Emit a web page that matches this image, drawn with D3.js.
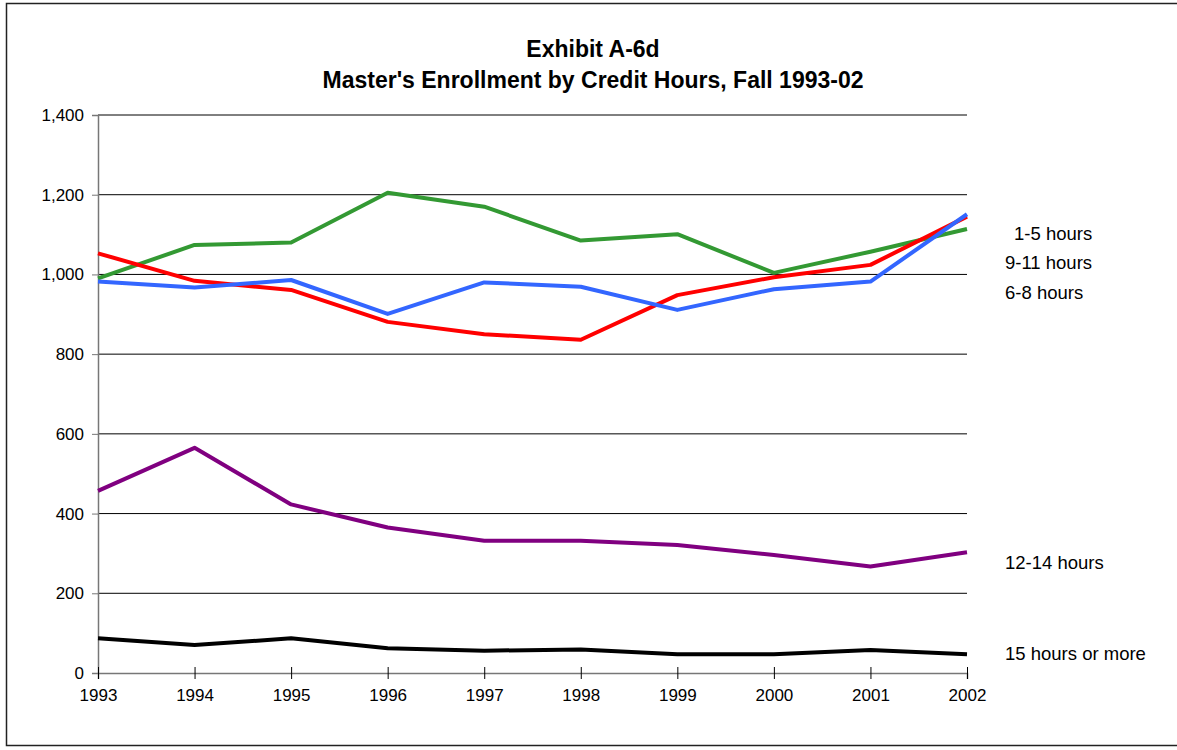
<!DOCTYPE html>
<html>
<head>
<meta charset="utf-8">
<script src="https://cdn.jsdelivr.net/npm/d3@7"></script>
<style>
  body { margin: 0; background: #fff; }
  svg text { font-family: "Liberation Sans", Arial, sans-serif; fill: #000; }
</style>
</head>
<body>
<div id="chart"></div>
<script>
var years = [1993, 1994, 1995, 1996, 1997, 1998, 1999, 2000, 2001, 2002];
var yTicks = [0, 200, 400, 600, 800, 1000, 1200, 1400];

var hours1to5   = [982, 967, 986, 901, 980, 969, 911, 963, 982, 1151];
var hours9to11  = [1053, 984, 961, 881, 850, 836, 948, 993, 1024, 1145];
var hours6to8   = [990, 1074, 1080, 1205, 1170, 1085, 1101, 1004, 1057, 1114];
var hours12to14 = [457, 565, 423, 365, 332, 332, 321, 296, 267, 303];
var hours15plus = [87, 70, 87, 62, 56, 59, 47, 47, 58, 47];

var series = [
  {name: "6-8 hours",        values: hours6to8,   color: "#339933", labelY: 293, dx: 0},
  {name: "9-11 hours",       values: hours9to11,  color: "#ff0000", labelY: 263, dx: 0},
  {name: "1-5 hours",        values: hours1to5,   color: "#3366ff", labelY: 234, dx: 9},
  {name: "12-14 hours",      values: hours12to14, color: "#800080", labelY: 563, dx: 0},
  {name: "15 hours or more", values: hours15plus, color: "#000000", labelY: 654, dx: 0}
];

(function() {
  var width = 1177, height = 750;
  var plotLeft = 98, plotRight = 967, plotTop = 115, plotBottom = 673;

  var svg = d3.select("#chart").append("svg")
      .attr("width", width)
      .attr("height", height);

  // outer frame
  svg.append("rect")
      .attr("x", 6.5).attr("y", 3.5)
      .attr("width", 1200).attr("height", 742)
      .attr("fill", "none")
      .attr("stroke", "#222")
      .attr("stroke-width", 1.5);

  var x = d3.scaleLinear().domain([1993, 2002]).range([plotLeft, plotRight]);
  var y = d3.scaleLinear().domain([0, 1400]).range([plotBottom, plotTop]);

  // title
  svg.append("text")
      .attr("x", 593).attr("y", 57)
      .attr("text-anchor", "middle")
      .style("font-weight", "bold").style("font-size", "23px")
      .text("Exhibit A-6d");
  svg.append("text")
      .attr("x", 593).attr("y", 88)
      .attr("text-anchor", "middle")
      .style("font-weight", "bold").style("font-size", "23px")
      .text("Master's Enrollment by Credit Hours, Fall 1993-02");

  // gridlines
  svg.append("g")
    .selectAll("line")
    .data(yTicks.filter(function(d) { return d > 0; }))
    .enter().append("line")
      .attr("x1", plotLeft).attr("x2", plotRight)
      .attr("y1", function(d) { return y(d); })
      .attr("y2", function(d) { return y(d); })
      .attr("stroke", "#000")
      .attr("stroke-width", 1);

  // y axis
  var yAxis = svg.append("g")
      .attr("transform", "translate(" + plotLeft + ",0)")
      .call(d3.axisLeft(y).tickValues(yTicks).tickSize(6).tickPadding(8)
        .tickFormat(d3.format(",")));
  yAxis.select(".domain").attr("stroke", "#777").attr("stroke-width", 1.5);
  yAxis.selectAll(".tick line").attr("stroke", "#777");
  yAxis.selectAll("text").style("font-size", "17px")
      .attr("font-family", null);

  // x axis
  var xAxis = svg.append("g")
      .attr("transform", "translate(0," + plotBottom + ")")
      .call(d3.axisBottom(x).tickValues(years).tickSize(6).tickPadding(10)
        .tickFormat(d3.format("d")));
  xAxis.select(".domain").attr("stroke", "#777").attr("stroke-width", 1.5);
  xAxis.selectAll(".tick line").attr("stroke", "#000").attr("y1", -6).attr("y2", 6);
  xAxis.selectAll("text").style("font-size", "17px")
      .attr("font-family", null);

  // lines
  var line = d3.line()
      .x(function(d, i) { return x(years[i]); })
      .y(function(d) { return y(d); });

  svg.append("g")
    .selectAll("path")
    .data(series)
    .enter().append("path")
      .attr("d", function(s) { return line(s.values); })
      .attr("fill", "none")
      .attr("stroke", function(s) { return s.color; })
      .attr("stroke-width", 4)
      .attr("stroke-linejoin", "round");

  // series labels on the right
  svg.append("g")
    .selectAll("text")
    .data(series)
    .enter().append("text")
      .attr("x", function(s) { return 1005 + s.dx; })
      .attr("y", function(s) { return s.labelY; })
      .attr("dy", "0.35em")
      .style("font-size", "18.5px")
      .text(function(s) { return s.name; });
})();
</script>
</body>
</html>
